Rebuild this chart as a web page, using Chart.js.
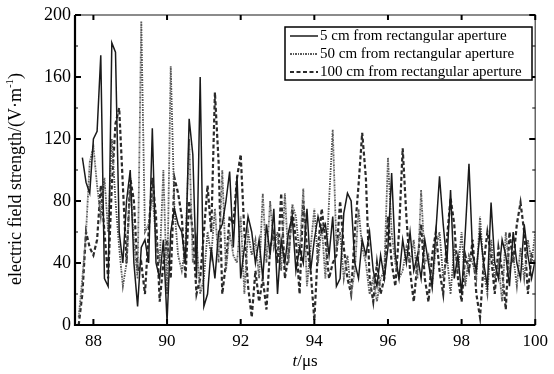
<!DOCTYPE html>
<html>
<head>
<meta charset="utf-8">
<script src="https://cdn.jsdelivr.net/npm/chart.js@4.4.1/dist/chart.umd.min.js"></script>
<style>
  html, body { margin: 0; padding: 0; background: #fff; }
  #wrap { width: 554px; height: 374px; }
</style>
</head>
<body>
<div id="wrap"><canvas id="c" width="554" height="374"></canvas></div>
<script>
// time axis, microseconds
var T = [
  87.6, 87.7, 87.8, 87.9, 88.0, 88.1, 88.2, 88.3, 88.4, 88.5,
  88.6, 88.7, 88.8, 88.9, 89.0, 89.1, 89.2, 89.3, 89.4, 89.5,
  89.6, 89.7, 89.8, 89.9, 90.0, 90.1, 90.2, 90.3, 90.4, 90.5,
  90.6, 90.7, 90.8, 90.9, 91.0, 91.1, 91.2, 91.3, 91.4, 91.5,
  91.6, 91.7, 91.8, 91.9, 92.0, 92.1, 92.2, 92.3, 92.4, 92.5,
  92.6, 92.7, 92.8, 92.9, 93.0, 93.1, 93.2, 93.3, 93.4, 93.5,
  93.6, 93.7, 93.8, 93.9, 94.0, 94.1, 94.2, 94.3, 94.4, 94.5,
  94.6, 94.7, 94.8, 94.9, 95.0, 95.1, 95.2, 95.3, 95.4, 95.5,
  95.6, 95.7, 95.8, 95.9, 96.0, 96.1, 96.2, 96.3, 96.4, 96.5,
  96.6, 96.7, 96.8, 96.9, 97.0, 97.1, 97.2, 97.3, 97.4, 97.5,
  97.6, 97.7, 97.8, 97.9, 98.0, 98.1, 98.2, 98.3, 98.4, 98.5,
  98.6, 98.7, 98.8, 98.9, 99.0, 99.1, 99.2, 99.3, 99.4, 99.5,
  99.6, 99.7, 99.8, 99.9, 100.0
];

var cm5 = [
  null, 108, 92, 85, 120, 125, 174, 30, 25, 182,
  176, 60, 40, 80, 100, 40, 12, 50, 55, 40,
  127, 40, 30, 55, 2, 60, 75, 65, 60, 40,
  133, 110, 30, 160, 12, 20, 50, 30, 60, 65,
  80, 99, 50, 96, 30, 50, 70, 60, 40, 55,
  30, 65, 45, 75, 20, 55, 40, 60, 70, 35,
  50, 40, 75, 35, 55, 70, 60, 65, 45, 70,
  25, 30, 72, 85, 80, 40, 30, 55, 45, 60,
  35, 25, 45, 30, 50, 98, 45, 30, 55, 40,
  60, 35, 45, 30, 55, 40, 25, 60, 96, 65,
  40, 87, 30, 45, 20, 60, 104, 45, 35, 60,
  40, 25, 79, 40, 30, 55, 45, 25, 60, 40,
  30, 65, 45, 30, 42
];

var cm50 = [
  5, 30, 60, 105, 115, 90, 70, 95, 60, 120,
  80, 50, 25, 40, 90, 55, 30, 196, 60, 65,
  85, 55, 40, 100, 20, 167, 75, 45, 35, 50,
  120, 40, 55, 20, 30, 60, 45, 75, 40, 100,
  35, 60, 45, 40, 70, 20, 60, 45, 55, 30,
  85, 40, 80, 50, 60, 35, 85, 40, 78, 70,
  45, 88, 25, 50, 75, 40, 65, 30, 80, 126,
  50, 60, 30, 45, 20, 35, 75, 50, 40, 20,
  30, 15, 30, 35, 108, 60, 40, 30, 35, 50,
  40, 55, 30, 87, 40, 45, 25, 50, 60, 30,
  45, 20, 50, 35, 60, 25, 45, 40, 30, 70,
  35, 20, 55, 30, 40, 15, 60, 35, 45, 25,
  50, 30, 55, 40, 60
];

var cm100 = [
  0, 20, 60, 50, 45, 55, 90, 60, 30, 90,
  130, 140, 90, 40, 95, 80, 35, 40, 20, 60,
  95, 70, 15, 40, 55, 30, 95, 85, 70, 30,
  80, 60, 20, 30, 60, 90, 60, 150, 105, 20,
  40, 70, 65, 95, 110, 60, 25, 5, 35, 15,
  30, 10, 50, 60, 40, 85, 30, 45, 75, 55,
  20, 80, 50, 35, 3, 50, 75, 55, 30, 40,
  45, 80, 50, 30, 20, 60, 90, 124, 95, 30,
  15, 40, 20, 30, 70, 40, 25, 60, 114, 70,
  35, 15, 40, 65, 30, 15, 45, 60, 35, 20,
  55, 82, 65, 30, 15, 45, 35, 55, 20, 5,
  40, 60, 45, 20, 50, 35, 10, 60, 40, 65,
  79, 60, 20, 45, 40
];

var xTicks = [88, 90, 92, 94, 96, 98, 100];
var yTicks = [0, 40, 80, 120, 160, 200];
var yMinor = [20, 60, 100, 140, 180];

var seriesNames = [
  '5 cm from rectangular aperture',
  '50 cm from rectangular aperture',
  '100 cm from rectangular aperture'
];

var SERIF = '"Liberation Serif", "Times New Roman", serif';

function pts(ys) {
  return T.map(function(t, i) { return { x: t, y: ys[i] }; });
}

var styles = [
  { color: '#1a1a1a', width: 1.5, dash: [] },
  { color: '#5a5a5a', width: 1.8, dash: [2, 1, 1, 1] },
  { color: '#2a2a2a', width: 2.2, dash: [4, 2.5] }
];

var framePlugin = {
  id: 'frame',
  afterDraw: function(chart) {
    var ctx = chart.ctx, a = chart.chartArea;
    var xs = chart.scales.x, ys = chart.scales.y;
    ctx.save();
    // box
    ctx.strokeStyle = '#666';
    ctx.lineWidth = 1.5;
    ctx.beginPath();
    ctx.moveTo(a.left, a.top); ctx.lineTo(a.right, a.top); ctx.lineTo(a.right, a.bottom);
    ctx.stroke();
    ctx.strokeStyle = '#000';
    ctx.lineWidth = 2.2;
    ctx.beginPath();
    ctx.moveTo(a.left, a.top); ctx.lineTo(a.left, a.bottom); ctx.lineTo(a.right, a.bottom);
    ctx.stroke();
    // inward ticks
    ctx.lineWidth = 2;
    ctx.strokeStyle = '#000';
    xTicks.forEach(function(v) {
      var px = xs.getPixelForValue(v);
      ctx.beginPath();
      ctx.moveTo(px, a.bottom); ctx.lineTo(px, a.bottom - 6);
      ctx.moveTo(px, a.top); ctx.lineTo(px, a.top + 5);
      ctx.stroke();
    });
    yTicks.forEach(function(v) {
      var py = ys.getPixelForValue(v);
      ctx.beginPath();
      ctx.moveTo(a.left, py); ctx.lineTo(a.left + 6, py);
      ctx.moveTo(a.right, py); ctx.lineTo(a.right - 6, py);
      ctx.stroke();
    });
    ctx.lineWidth = 1.2;
    yMinor.forEach(function(v) {
      var py = ys.getPixelForValue(v);
      ctx.beginPath();
      ctx.moveTo(a.left, py); ctx.lineTo(a.left + 3, py);
      ctx.moveTo(a.right, py); ctx.lineTo(a.right - 3, py);
      ctx.stroke();
    });

    // legend
    var bx = 285, by = 27, bw = 247, bh = 53;
    ctx.fillStyle = '#fff';
    ctx.fillRect(bx, by, bw, bh);
    ctx.strokeStyle = '#000';
    ctx.lineWidth = 1.5;
    ctx.strokeRect(bx, by, bw, bh);
    ctx.font = '15px ' + SERIF;
    ctx.textBaseline = 'middle';
    ctx.textAlign = 'left';
    seriesNames.forEach(function(name, i) {
      var ry = by + 9 + i * 18;
      var st = styles[i];
      ctx.strokeStyle = st.color;
      ctx.lineWidth = st.width;
      ctx.setLineDash(st.dash);
      ctx.beginPath();
      ctx.moveTo(bx + 5, ry); ctx.lineTo(bx + 33, ry);
      ctx.stroke();
      ctx.setLineDash([]);
      ctx.fillStyle = '#000';
      ctx.fillText(name, bx + 35, ry);
    });

    // x title: t/µs with italic t
    ctx.font = 'italic 17px ' + SERIF;
    ctx.textBaseline = 'middle';
    var w1 = ctx.measureText('t').width;
    ctx.font = '17px ' + SERIF;
    var w2 = ctx.measureText('/μs').width;
    var cx = (a.left + a.right) / 2 - (w1 + w2) / 2;
    ctx.font = 'italic 17px ' + SERIF;
    ctx.fillText('t', cx, 362);
    ctx.font = '17px ' + SERIF;
    ctx.fillText('/μs', cx + w1, 362);

    // y title
    ctx.translate(16, 179);
    ctx.rotate(-Math.PI / 2);
    var main = 'electric field strength/(V·m';
    ctx.font = '18px ' + SERIF;
    var wm = ctx.measureText(main).width;
    ctx.font = '11px ' + SERIF;
    var ws = ctx.measureText('-1').width;
    ctx.font = '18px ' + SERIF;
    var wp = ctx.measureText(')').width;
    var x0 = -(wm + ws + wp) / 2;
    ctx.fillText(main, x0, 0);
    ctx.font = '11px ' + SERIF;
    ctx.fillText('-1', x0 + wm, -6);
    ctx.font = '18px ' + SERIF;
    ctx.fillText(')', x0 + wm + ws, 0);
    ctx.restore();
  }
};

new Chart(document.getElementById('c'), {
  type: 'line',
  data: {
    datasets: [cm5, cm50, cm100].map(function(ys, i) {
      return {
        label: seriesNames[i],
        data: pts(ys),
        borderColor: styles[i].color,
        borderWidth: styles[i].width,
        borderDash: styles[i].dash,
        pointRadius: 0,
        tension: 0,
        fill: false
      };
    })
  },
  options: {
    responsive: false,
    animation: false,
    layout: { padding: { top: 15, right: 17, left: 0, bottom: 0 } },
    plugins: { legend: { display: false }, tooltip: { enabled: false } },
    scales: {
      x: {
        type: 'linear',
        min: 87.5,
        max: 100,
        afterBuildTicks: function(s) { s.ticks = xTicks.map(function(v) { return { value: v }; }); },
        afterFit: function(s) { s.height = 49; },
        grid: { display: false, drawTicks: false },
        border: { display: false },
        ticks: { color: '#000', padding: 6, maxRotation: 0, font: { family: SERIF, size: 17 } }
      },
      y: {
        min: 0,
        max: 200,
        afterBuildTicks: function(s) { s.ticks = yTicks.map(function(v) { return { value: v }; }); },
        afterFit: function(s) { s.width = 75; },
        grid: { display: false, drawTicks: false },
        border: { display: false },
        ticks: { color: '#000', padding: 4, font: { family: SERIF, size: 18 } }
      }
    }
  },
  plugins: [framePlugin]
});
</script>
</body>
</html>
